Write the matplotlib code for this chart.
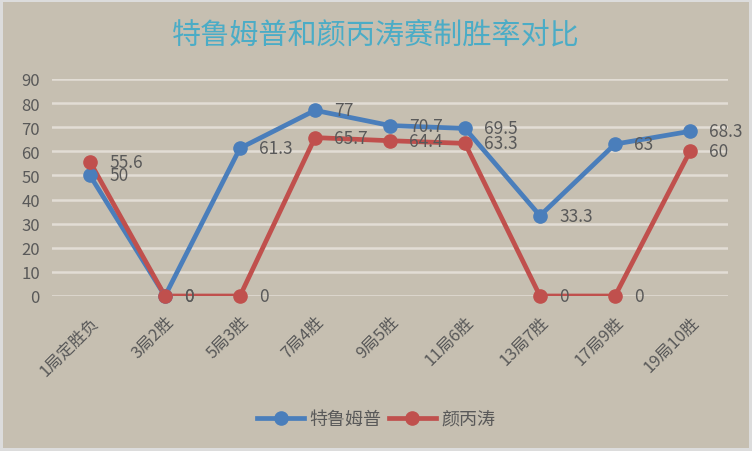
import matplotlib
matplotlib.use('Agg')
import matplotlib.pyplot as plt

plt.rcParams['font.family'] = ['Noto Sans CJK SC', 'DejaVu Sans']

categories = ['1局定胜负', '3局2胜', '5局3胜', '7局4胜', '9局5胜',
              '11局6胜', '13局7胜', '17局9胜', '19局10胜']
trump = [50, 0, 61.3, 77, 70.7, 69.5, 33.3, 63, 68.3]
yan = [55.6, 0, 0, 65.7, 64.4, 63.3, 0, 0, 60]
yticks = list(range(0, 100, 10))

bg = '#c6bfb1'
grid_c = '#e2ddd5'
text_c = '#595959'
blue = '#4a7ebb'
red = '#c0504d'

fig = plt.figure(figsize=(7.52, 4.52), dpi=100, facecolor=bg,
                 edgecolor='#dcdcdc', linewidth=4)
ax = fig.add_axes([52.5 / 752, 1 - 297 / 452, 675 / 752, 217 / 452])
ax.set_facecolor(bg)

x = list(range(len(categories)))
for vals, col, name in [(trump, blue, '特鲁姆普'), (yan, red, '颜丙涛')]:
    # line clipped at the plot area like excel, markers not
    ax.plot(x, vals, color=col, lw=3.4, zorder=3, solid_capstyle='round')
    ax.plot(x, vals, ls='none', marker='o', ms=9.5, color=col, zorder=4,
            clip_on=False)
    ax.plot([], [], color=col, lw=3.4, marker='o', ms=9.5, label=name)
    for xi, v in zip(x, vals):
        ax.annotate(f'{v:g}', (xi, v), xytext=(14, 0),
                    textcoords='offset points', ha='left', va='center',
                    fontsize=12.5, color=text_c, zorder=5,
                    annotation_clip=False)

ax.set_xlim(-0.5, len(categories) - 0.5)
ax.set_ylim(0, 90)
ax.set_yticks(yticks)
ax.yaxis.grid(True, color=grid_c, lw=1.8, zorder=1)
ax.set_axisbelow(True)
for s in ax.spines.values():
    s.set_visible(False)
ax.tick_params(axis='both', length=0, colors=text_c, labelsize=12)
ax.tick_params(axis='y', pad=9)
ax.set_xticks(x)
ax.set_xticklabels(categories, rotation=45, ha='right', va='top',
                   rotation_mode='anchor', fontsize=12)
ax.tick_params(axis='x', pad=12)

fig.text(0.5, 1 - 35 / 452, '特鲁姆普和颜丙涛赛制胜率对比', ha='center',
         va='center', fontsize=21, color='#4bacc6', style='italic')

fig.legend(loc='center', bbox_to_anchor=(0.5, 1 - 420 / 452), ncol=2,
           frameon=False, fontsize=13, labelcolor=text_c, handlelength=2.6,
           handletextpad=0.3, columnspacing=0.4)

fig.savefig('out.png', dpi=100, facecolor=bg, edgecolor='#dcdcdc')
